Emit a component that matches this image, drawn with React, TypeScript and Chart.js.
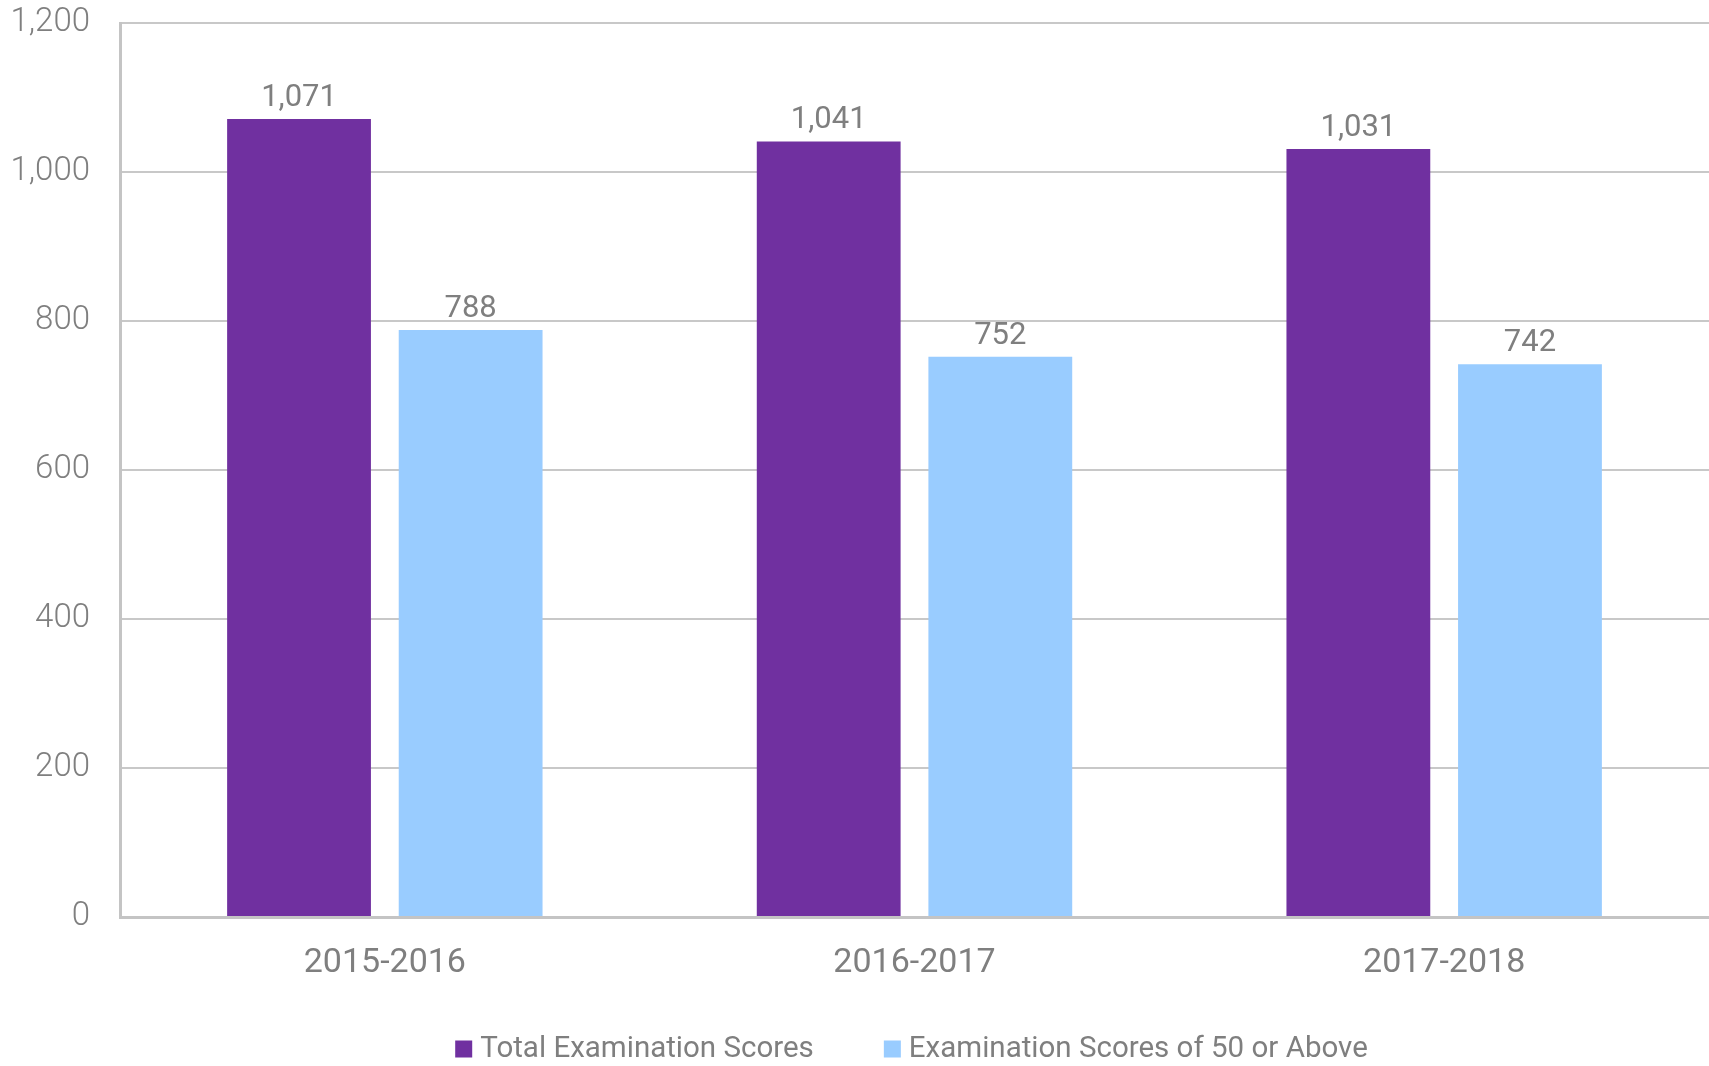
import React, { useEffect, useRef } from "react";
import { Chart, registerables } from "chart.js";

Chart.register(...registerables);

const categories = ["2015-2016", "2016-2017", "2017-2018"];
const totalScores = [1071, 1041, 1031];
const scores50Above = [788, 752, 742];
const seriesNames = ["Total Examination Scores", "Examination Scores of 50 or Above"];
const seriesColors = ["#7030A0", "#99CCFF"];
const yMin = 0;
const yMax = 1200;
const yStep = 200;

const FONT = "Roboto";
const TEXT = "#7f7f7f";

const valueLabels = {
  id: "valueLabels",
  afterDatasetsDraw(chart: any) {
    const ctx = chart.ctx;
    ctx.save();
    ctx.font = `31px ${FONT}`;
    ctx.fillStyle = TEXT;
    ctx.textAlign = "center";
    ctx.textBaseline = "alphabetic";
    chart.data.datasets.forEach((ds: any, i: number) => {
      const meta = chart.getDatasetMeta(i);
      meta.data.forEach((el: any, j: number) => {
        const v = ds.data[j] as number;
        ctx.fillText(v.toLocaleString("en-US"), el.x, el.y - 13);
      });
    });
    ctx.restore();
  },
};

const bottomLegend = {
  id: "bottomLegend",
  afterDraw(chart: any) {
    const ctx = chart.ctx;
    const area = chart.chartArea;
    const box = 17;
    const boxGap = 8;
    const itemGap = 70;
    ctx.save();
    ctx.font = `29.5px ${FONT}`;
    const items = chart.data.datasets.map((ds: any) => ({
      text: ds.label as string,
      color: ds.backgroundColor as string,
      w: ctx.measureText(ds.label).width,
    }));
    let total = 0;
    items.forEach((it: any, i: number) => {
      total += box + boxGap + it.w + (i < items.length - 1 ? itemGap : 0);
    });
    const cx = (area.left + area.right) / 2 - 3;
    const cy = area.bottom + 132;
    let x = cx - total / 2;
    ctx.textBaseline = "middle";
    ctx.textAlign = "left";
    items.forEach((it: any) => {
      ctx.fillStyle = it.color;
      ctx.fillRect(x, cy - box / 2, box, box);
      x += box + boxGap;
      ctx.fillStyle = TEXT;
      ctx.fillText(it.text, x, cy + 1);
      x += it.w + itemGap;
    });
    ctx.restore();
  },
};

export default function App() {
  const canvasRef = useRef<HTMLCanvasElement | null>(null);

  useEffect(() => {
    if (!canvasRef.current) return;
    const chart = new Chart(canvasRef.current, {
      type: "bar",
      data: {
        labels: categories,
        datasets: [
          {
            label: seriesNames[0],
            data: totalScores,
            backgroundColor: seriesColors[0],
            categoryPercentage: 0.648,
            barPercentage: 0.838,
          },
          {
            label: seriesNames[1],
            data: scores50Above,
            backgroundColor: seriesColors[1],
            categoryPercentage: 0.648,
            barPercentage: 0.838,
          },
        ],
      },
      options: {
        animation: false,
        responsive: true,
        maintainAspectRatio: false,
        layout: { padding: { top: 23, left: 0, right: 0, bottom: 0 } },
        plugins: {
          legend: { display: false },
          tooltip: { enabled: false },
        },
        scales: {
          x: {
            grid: { display: false, drawTicks: false },
            border: { display: true, color: "#c4c4c4", width: 3 },
            ticks: {
              color: TEXT,
              font: { family: FONT, size: 34 },
              padding: 26,
            },
            afterFit: (scale: any) => {
              scale.height = 149;
              scale.paddingLeft = 0;
              scale.paddingRight = 0;
            },
          },
          y: {
            min: yMin,
            max: yMax,
            grid: { color: "#c8c8c8", lineWidth: 2, drawTicks: false },
            border: { display: true, color: "#c4c4c4", width: 3 },
            ticks: {
              stepSize: yStep,
              color: TEXT,
              font: { family: FONT, size: 33, weight: "300" as any },
              padding: 30,
              callback: (v: any) => Number(v).toLocaleString("en-US"),
            },
            afterFit: (scale: any) => {
              scale.width = 120;
              scale.paddingTop = 0;
              scale.paddingBottom = 0;
            },
          },
        },
      },
      plugins: [valueLabels, bottomLegend],
    });
    return () => chart.destroy();
  }, []);

  return (
    <div style={{ position: "absolute", left: 0, top: 0, width: 1709, height: 1066, background: "#fff" }}>
      <canvas ref={canvasRef} />
    </div>
  );
}
